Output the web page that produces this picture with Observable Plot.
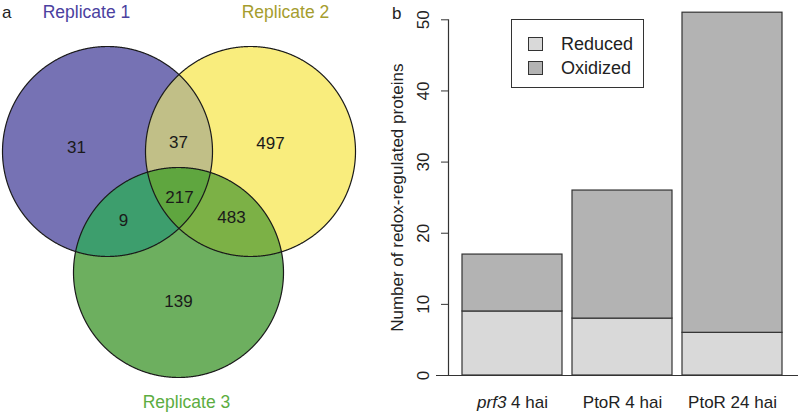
<!DOCTYPE html>
<html>
<head>
<meta charset="utf-8">
<script src="https://cdn.jsdelivr.net/npm/d3@7"></script>
<script src="https://cdn.jsdelivr.net/npm/@observablehq/plot@0.6"></script>
<style>
  html, body { margin: 0; padding: 0; background: #fff; }
  #root { position: relative; width: 800px; height: 414px; font-family: "Liberation Sans", Arial, sans-serif; color: #222; }
  #venn { position: absolute; left: 0; top: 0; }
  #bars { position: absolute; left: 385px; top: 0; }
  .panel-letter { position: absolute; font-size: 17px; line-height: 1; }
  #legend { position: absolute; left: 511px; top: 19px; width: 131px; height: 67px; border: 1px solid #333; background: #fff; }
  .lg-item { position: absolute; left: 16px; font-size: 18px; line-height: 1; display: flex; align-items: center; }
  .lg-sw { width: 13px; height: 12px; border: 1px solid #333; margin-right: 18px; }
</style>
</head>
<body>
<div id="root">
  <div id="venn"></div>
  <div id="bars"></div>
  <div class="panel-letter" style="left:2px; top:4px;">a</div>
  <div class="panel-letter" style="left:392px; top:5px;">b</div>
  <div id="legend"></div>
</div>
<script>
// ---------------- DATA ----------------
const categories = ["prf3 4 hai", "PtoR 4 hai", "PtoR 24 hai"];
const reducedCounts = [9, 8, 6];
const oxidizedCounts = [8, 18, 45];
const seriesNames = ["Reduced", "Oxidized"];
const yTicks = [0, 10, 20, 30, 40, 50];
const yTitle = "Number of redox-regulated proteins";

const vennSetNames = ["Replicate 1", "Replicate 2", "Replicate 3"];
const vennRegionKeys = ["1", "2", "3", "12", "13", "23", "123"];
const vennRegionCounts = [31, 497, 139, 37, 9, 483, 217];

// ---------------- LAYOUT / STYLE ----------------
const circles = [
  {cx: 107, cy: 151, r: 105},
  {cx: 250, cy: 151, r: 105},
  {cx: 178, cy: 272, r: 105}
];
const regionFill = {
  "1": "#7672b4", "2": "#f9ed7d", "3": "#6daf5f",
  "12": "#c1bf87", "13": "#3d9e6d", "23": "#7cb146", "123": "#5fa63f"
};
const countPos = {
  "1": [76, 147], "2": [270, 143], "3": [178, 301],
  "12": [178, 142], "13": [123, 220], "23": [231, 217], "123": [179, 197]
};
const setLabelPos = [[86, 12], [285, 12], [186, 402]];
const setLabelColor = ["#4b41a0", "#a59d2e", "#5cad41"];
const seriesColors = ["#d9d9d9", "#b3b3b3"];

// ---------------- VENN ----------------
function inside(p, c) { return (p.x - c.cx) ** 2 + (p.y - c.cy) ** 2 <= c.r * c.r + 1e-6; }
function regionPoly(key) {
  const ids = key.split("").map(d => +d - 1);
  const pts = [];
  const N = 1440;
  for (const i of ids) {
    const c = circles[i];
    for (let k = 0; k < N; k++) {
      const a = k / N * 2 * Math.PI;
      const p = {x: c.cx + c.r * Math.cos(a), y: c.cy + c.r * Math.sin(a)};
      if (ids.every(j => j === i || inside(p, circles[j]))) pts.push(p);
    }
  }
  const mx = d3.mean(pts, p => p.x), my = d3.mean(pts, p => p.y);
  pts.sort((a, b) => Math.atan2(a.y - my, a.x - mx) - Math.atan2(b.y - my, b.x - mx));
  return pts;
}
const countRows = vennRegionKeys.map((k, i) => ({key: k, count: vennRegionCounts[i], x: countPos[k][0], y: countPos[k][1]}));
const setRows = vennSetNames.map((n, i) => ({name: n, x: setLabelPos[i][0], y: setLabelPos[i][1], color: setLabelColor[i]}));

const vennMarks = [];
for (const k of vennRegionKeys) {
  vennMarks.push(Plot.line(regionPoly(k), {x: "x", y: "y", fill: regionFill[k], stroke: "none", curve: "linear-closed"}));
}
for (let i = 0; i < 3; i++) {
  vennMarks.push(Plot.line(regionPoly(String(i + 1)), {x: "x", y: "y", fill: "none", stroke: "#1a1a1a", strokeWidth: 1.2, curve: "linear-closed"}));
}
vennMarks.push(Plot.text(countRows, {x: "x", y: "y", text: d => String(d.count), fontSize: 17, fill: "#1a1a1a"}));
vennMarks.push(Plot.text(setRows, {x: "x", y: "y", text: "name", fontSize: 17.5, fill: d => d.color}));

const venn = Plot.plot({
  width: 385, height: 414,
  marginTop: 0, marginBottom: 0, marginLeft: 0, marginRight: 0,
  x: {domain: [0, 385], range: [0, 385], axis: null},
  y: {domain: [0, 414], range: [0, 414], axis: null},
  color: {type: "identity"},
  style: {fontFamily: "'Liberation Sans', Arial, sans-serif", background: "transparent"},
  marks: vennMarks
});
document.getElementById("venn").appendChild(venn);

// ---------------- BARS ----------------
const barRows = [];
categories.forEach((c, i) => barRows.push({cat: c, type: seriesNames[0], value: reducedCounts[i]}));
categories.forEach((c, i) => barRows.push({cat: c, type: seriesNames[1], value: oxidizedCounts[i]}));

const bars = Plot.plot({
  width: 415, height: 414,
  marginLeft: 63, marginRight: 2, marginTop: 19.3, marginBottom: 39,
  x: {domain: categories, range: [76, 399], paddingInner: 0.09, paddingOuter: 0, axis: null},
  y: {domain: [0, 50], axis: null},
  color: {domain: seriesNames, range: seriesColors},
  style: {fontFamily: "'Liberation Sans', Arial, sans-serif", background: "transparent", color: "#222"},
  marks: [
    Plot.barY(barRows, {x: "cat", y: "value", fill: "type", order: seriesNames, stroke: "#333", strokeWidth: 1.2}),
    Plot.ruleY([0], {stroke: "#333", strokeWidth: 1.2, insetLeft: -12}),
    Plot.frame({anchor: "left", stroke: "#333", strokeWidth: 1.2}),
    Plot.axisY({ticks: yTicks, tickSize: 7, tickFormat: () => "", stroke: "#333", label: null}),
    Plot.text(yTicks, {y: d => d, text: d => String(d), frameAnchor: "left", dx: -25, rotate: -90, textAnchor: "middle", lineAnchor: "middle", fontSize: 17, fill: "#222"}),
    Plot.text([yTitle], {text: d => d, frameAnchor: "left", dx: -51, rotate: -90, textAnchor: "middle", lineAnchor: "middle", fontSize: 17, fill: "#222"}),
    Plot.text(categories, {x: d => d, text: d => d, frameAnchor: "bottom", dy: 27, lineAnchor: "middle", fontSize: 17, fill: "#222"})
  ]
});
// italicize gene name
d3.select(bars).selectAll("text").each(function() {
  const t = d3.select(this);
  if (this.textContent === categories[0]) {
    const parts = categories[0].split(" ");
    t.text("");
    t.append("tspan").attr("font-style", "italic").text(parts[0]);
    t.append("tspan").text(" " + parts.slice(1).join(" "));
  }
});
document.getElementById("bars").appendChild(bars);

// ---------------- LEGEND ----------------
const legend = document.getElementById("legend");
seriesNames.forEach((n, i) => {
  const item = document.createElement("div");
  item.className = "lg-item";
  item.style.top = (i === 0 ? 15 : 39) + "px";
  const sw = document.createElement("div");
  sw.className = "lg-sw";
  sw.style.background = seriesColors[i];
  const tx = document.createElement("span");
  tx.textContent = n;
  item.appendChild(sw); item.appendChild(tx);
  legend.appendChild(item);
});
</script>
</body>
</html>
